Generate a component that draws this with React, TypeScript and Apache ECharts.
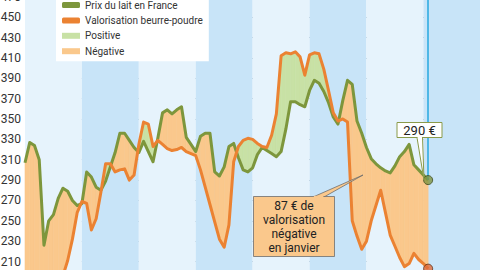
import React, { useEffect, useRef } from 'react';
import * as echarts from 'echarts';

// Monthly categories: déc. 2008 → déc. 2016 (data ends janv. 2016)
const monthNames = ['janv.', 'févr.', 'mars', 'avr.', 'mai', 'juin', 'juil.', 'août', 'sept.', 'oct.', 'nov.', 'déc.'];
const months: string[] = ['déc. 2008'];
for (let y = 2009; y <= 2016; y++) for (const m of monthNames) months.push(`${m} ${y}`);
months.splice(98);

// Prix du lait en France (€/1000 L)
const milkPrice: number[] = [
  307, 327, 324, 310, 226, 250, 256, 272, 282, 279, 270, 265,
  267, 298, 293, 283, 280, 289, 303, 317, 336, 336, 329, 322,
  317, 328, 318, 308, 331, 356, 359, 355, 359, 362, 332, 325,
  318, 333, 336, 336, 298, 294, 303, 323, 326, 312, 300, 298,
  302, 315, 322, 319, 316, 313, 318, 340, 367, 367, 364, 362,
  378, 388, 385, 377, 366, 352, 345, 368, 388, 384, 348, 336,
  322, 311, 306, 302, 299, 297, 304, 313, 318, 325, 305, 300,
  295, 290,
];

// Valorisation beurre-poudre (€/1000 L)
const butterPowder: number[] = [
  196, 190, 184, 178, 174, 172, 175, 182, 196, 211, 232, 258,
  269, 267, 241, 252, 278, 306, 306, 298, 300, 301, 290, 295,
  325, 347, 345, 323, 329, 325, 321, 319, 320, 322, 318, 316,
  314, 300, 283, 266, 249, 232, 224, 246, 308, 323, 329, 331,
  330, 326, 323, 322, 334, 355, 412, 415, 414, 416, 411, 393,
  413, 415, 414, 399, 378, 356, 348, 350, 347, 250, 235, 222,
  230, 250, 265, 280, 258, 236, 225, 214, 205, 208, 218, 212,
  208, 203,
];

const Y_MIN = 190;
const Y_MAX = 470;
const Y_STEP = 20;

const FONT = 'Roboto, "Noto Sans", sans-serif';
const GREEN = '#7d963c';
const ORANGE = '#eb8232';
const GREEN_FILL = '#c8e1a5';
const ORANGE_FILL = '#fac88c';

const lastIdx = milkPrice.length - 1;
const segments = milkPrice.slice(0, -1).map((_, i) => i);

function makeFill(name: string, color: string, positive: boolean) {
  return {
    type: 'custom',
    name,
    z: 1,
    silent: true,
    itemStyle: { color },
    data: segments.map((i) => [i, milkPrice[i]]),
    renderItem: (_params: any, api: any) => {
      const i = api.value(0) as number;
      const m0 = milkPrice[i], m1 = milkPrice[i + 1];
      const v0 = butterPowder[i], v1 = butterPowder[i + 1];
      const d0 = positive ? v0 - m0 : m0 - v0;
      const d1 = positive ? v1 - m1 : m1 - v1;
      if (d0 <= 0 && d1 <= 0) return { type: 'group', children: [] };
      const a0 = api.coord([i, m0]);
      const a1 = api.coord([i + 1, m1]);
      const b0 = api.coord([i, v0]);
      const b1 = api.coord([i + 1, v1]);
      let pts: number[][];
      if (d0 >= 0 && d1 >= 0) {
        pts = [a0, a1, b1, b0];
      } else {
        const t = d0 / (d0 - d1);
        const c = [a0[0] + t * (a1[0] - a0[0]), a0[1] + t * (a1[1] - a0[1])];
        pts = d0 > 0 ? [a0, c, b0] : [c, a1, b1];
      }
      return {
        type: 'polygon',
        shape: { points: pts },
        style: { fill: color, stroke: color, lineWidth: 0.6 },
      };
    },
  };
}

export default function App() {
  const ref = useRef<HTMLDivElement>(null);

  useEffect(() => {
    if (!ref.current) return;
    const chart = echarts.init(ref.current, undefined, { renderer: 'svg' });
    chart.setOption({
      animation: false,
      textStyle: { fontFamily: FONT },
      grid: { left: 25, right: -0.3, top: -3.2, bottom: -11.9, containLabel: false, outerBoundsMode: 'none' },
      legend: {
        orient: 'vertical',
        left: 56,
        top: -5,
        backgroundColor: '#ffffff',
        padding: [4, 6, 4, 6],
        itemGap: 3.4,
        itemWidth: 18,
        itemHeight: 6,
        selectedMode: false,
        textStyle: { fontSize: 10, color: '#333', fontFamily: FONT, lineHeight: 12 },
        data: [
          { name: 'Prix du lait en France', icon: 'roundRect' },
          { name: 'Valorisation beurre-poudre', icon: 'roundRect' },
          { name: 'Positive', icon: 'rect' },
          { name: 'Négative', icon: 'rect' },
        ],
      },
      xAxis: {
        type: 'category',
        data: months,
        boundaryGap: false,
        axisLine: { show: false },
        axisTick: { show: false },
        axisLabel: { show: false },
        splitLine: { show: false },
        splitArea: {
          show: true,
          interval: 11,
          areaStyle: { color: ['#e6f3fc', '#c8e4f8'] },
        },
      },
      yAxis: {
        type: 'value',
        min: Y_MIN,
        max: Y_MAX,
        interval: Y_STEP,
        axisLine: { show: false },
        axisTick: { show: false },
        axisLabel: { color: '#333', fontSize: 12, fontFamily: FONT, margin: 4, showMinLabel: false },
        splitLine: { lineStyle: { color: '#8a9cab', width: 1.2 } },
      },
      series: [
        makeFill('Positive', GREEN_FILL, true),
        makeFill('Négative', ORANGE_FILL, false),
        {
          type: 'line',
          name: 'Prix du lait en France',
          data: milkPrice,
          z: 3,
          symbol: 'none',
          itemStyle: { color: GREEN },
          lineStyle: { color: GREEN, width: 3, join: 'round' },
          markLine: {
            silent: true,
            symbol: ['none', 'none'],
            label: { show: false },
            lineStyle: { color: '#27a9e1', width: 1.5, type: 'solid' },
            data: [[{ coord: [months[lastIdx], Y_MAX] }, { coord: [months[lastIdx], milkPrice[lastIdx]] }]],
          },
        },
        {
          type: 'line',
          name: 'Valorisation beurre-poudre',
          data: butterPowder,
          z: 4,
          symbol: 'none',
          itemStyle: { color: ORANGE },
          lineStyle: { color: ORANGE, width: 3, join: 'round' },
        },
        {
          type: 'scatter',
          name: 'points',
          z: 6,
          silent: true,
          symbolSize: 9,
          data: [
            { value: [months[lastIdx], milkPrice[lastIdx]], itemStyle: { color: '#7f9440', borderColor: '#3d4a1f', borderWidth: 1 } },
            { value: [months[lastIdx], butterPowder[lastIdx]], itemStyle: { color: '#e06b3a', borderColor: '#5a2a10', borderWidth: 1 } },
          ],
        },
      ],
      graphic: {
        elements: [
          { type: 'polygon', z: 100, shape: { points: [[313, 197], [324, 197], [363, 175]] }, style: { fill: ORANGE_FILL, stroke: '#6d6d6d', lineWidth: 0.8 } },
          { type: 'rect', z: 101, shape: { x: 253.5, y: 196.5, width: 81, height: 60 }, style: { fill: ORANGE_FILL, stroke: '#6d6d6d', lineWidth: 0.8 } },
          { type: 'rect', z: 102, shape: { x: 313.8, y: 195.8, width: 9.6, height: 1.6 }, style: { fill: ORANGE_FILL } },
          {
            type: 'text', z: 103, x: 294, y: 227,
            style: { text: '87 € de\nvalorisation\nnégative\nen janvier', fill: '#222', fontSize: 12, fontFamily: FONT, lineHeight: 14, textAlign: 'center', textVerticalAlign: 'middle' },
          },
          { type: 'polygon', z: 100, shape: { points: [[417, 137.5], [422.5, 137.5], [424, 180]] }, style: { fill: '#ffffff', stroke: '#8a9a4a', lineWidth: 1 } },
          { type: 'rect', z: 101, shape: { x: 397, y: 122.5, width: 45, height: 15 }, style: { fill: '#ffffff', stroke: '#8a9a4a', lineWidth: 1 } },
          { type: 'rect', z: 102, shape: { x: 417.6, y: 136.8, width: 4.4, height: 1.6 }, style: { fill: '#ffffff' } },
          {
            type: 'text', z: 103, x: 419.5, y: 130.5,
            style: { text: '290 €', fill: '#222', fontSize: 13, fontFamily: FONT, textAlign: 'center', textVerticalAlign: 'middle' },
          },
        ],
      },
    });
    return () => chart.dispose();
  }, []);

  return <div ref={ref} style={{ position: 'absolute', left: 0, top: 0, width: 480, height: 270 }} />;
}
